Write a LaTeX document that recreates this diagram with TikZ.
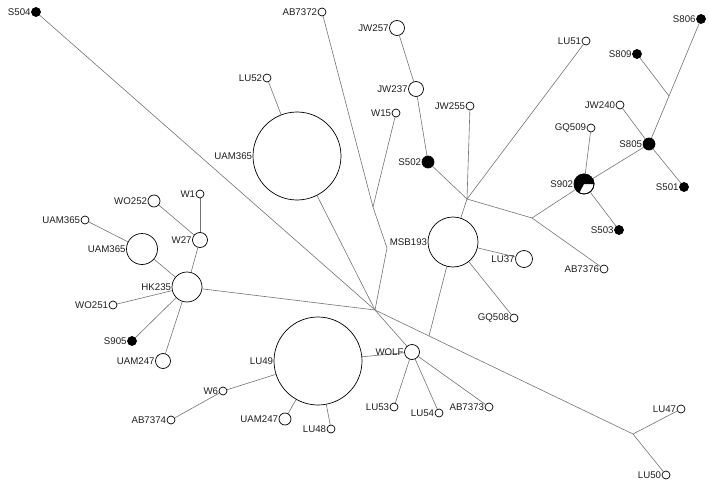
\documentclass[tikz,border=0pt]{standalone}
\usepackage{fontspec}
\setmainfont{Liberation Sans}
\pgfdeclarelayer{bg}
\pgfsetlayers{bg,main}
\begin{document}
\begin{tikzpicture}[x=1pt,y=-1pt,
  hap/.style={circle, draw=black, fill=white, line width=0.7pt, inner sep=0pt, minimum size=8pt},
  blk/.style={hap, fill=black},
  lbl/.style={font=\fontsize{9.7}{11}\selectfont, text=black!88, inner sep=0.4pt},
  ln/.style={draw=black!55, line width=0.6pt},
  label distance=0pt]
\useasboundingbox (0,0) rectangle (709,484);
% nodes
\node[blk, minimum size=9pt, label={[lbl]left:S504}] (S504) at (36,12) {};
\node[hap, label={[lbl]left:AB7372}] (AB7372) at (322,12) {};
\node[hap, minimum size=15pt, label={[lbl]left:JW257}] (JW257) at (397,28) {};
\node[hap, minimum size=15pt, label={[lbl]left:JW237}] (JW237) at (416,89) {};
\node[hap, label={[lbl]left:LU52}] (LU52) at (267,78) {};
\node[hap, label={[lbl]left:W15}] (W15) at (396,113) {};
\node[hap, label={[lbl]left:JW255}] (JW255) at (470,106) {};
\node[blk, minimum size=12pt, label={[lbl]left:S502}] (S502) at (428,162) {};
\node[hap, minimum size=88pt, label={[lbl]left:UAM365}] (UAMb) at (297,156) {};
\node[hap, label={[lbl]left:LU51}] (LU51) at (586,41) {};
\node[blk, minimum size=9pt, label={[lbl]left:S806}] (S806) at (701,19) {};
\node[blk, minimum size=9pt, label={[lbl]left:S809}] (S809) at (637,54) {};
\node[hap, label={[lbl]left:JW240}] (JW240) at (620,105) {};
\node[hap, label={[lbl]left:GQ509}] (GQ509) at (591,128) {};
\node[blk, minimum size=12pt, label={[lbl]left:S805}] (S805) at (649,144) {};
\node[hap, minimum size=20pt, label={[lbl]left:S902}] (S902) at (584,184) {};
\node[blk, minimum size=9pt, label={[lbl]left:S501}] (S501) at (684,187) {};
\node[blk, minimum size=9pt, label={[lbl]left:S503}] (S503) at (619,230) {};
\node[hap, label={[lbl]left:AB7376}] (AB7376) at (604,269) {};
\node[hap, minimum size=17pt, label={[lbl]left:LU37}] (LU37) at (524,259) {};
\node[hap, label={[lbl]left:GQ508}] (GQ508) at (514,318) {};
\node[hap, minimum size=50pt, label={[lbl]left:MSB193}] (MSB193) at (453,242) {};
\node[hap, minimum size=15pt, label={[lbl]left:WOLF}] (WOLF) at (412,352) {};
\node[hap, minimum size=88pt, label={[lbl]left:LU49}] (LU49) at (318,361) {};
\node[hap, label={[lbl]left:LU53}] (LU53) at (394,407) {};
\node[hap, label={[lbl]left:LU54}] (LU54) at (439,413) {};
\node[hap, label={[lbl]left:AB7373}] (AB7373) at (489,407) {};
\node[hap, label={[lbl]left:LU47}] (LU47) at (681,409) {};
\node[hap, label={[lbl]left:LU50}] (LU50) at (666,475) {};
\node[hap, minimum size=12pt, label={[lbl]left:UAM247}] (UAM247b) at (285,419) {};
\node[hap, label={[lbl]left:LU48}] (LU48) at (331,429) {};
\node[hap, label={[lbl]left:W6}] (W6) at (223,391) {};
\node[hap, label={[lbl]left:AB7374}] (AB7374) at (171,420) {};
\node[hap, minimum size=30pt, label={[lbl]left:HK235}] (HK235) at (187,287) {};
\node[hap, minimum size=15pt, label={[lbl]left:W27}] (W27) at (200,240) {};
\node[hap, label={[lbl]left:W1}] (W1) at (200,194) {};
\node[hap, minimum size=12pt, label={[lbl]left:WO252}] (WO252) at (154,201) {};
\node[hap, label={[lbl]left:UAM365}] (UAMs) at (85,220) {};
\node[hap, minimum size=31pt, label={[lbl]left:UAM365}] (UAMm) at (142,249) {};
\node[hap, label={[lbl]left:WO251}] (WO251) at (113,305) {};
\node[blk, minimum size=9pt, label={[lbl]left:S905}] (S905) at (132,341) {};
\node[hap, minimum size=15pt, label={[lbl]left:UAM247}] (UAM247a) at (163,361) {};
% pie of S902
\fill[black] (S902.center) -- (S902.0) arc[start angle=0, end angle=240, radius=10pt] -- cycle;
\draw[line width=0.7pt] (S902.center) circle[radius=10pt];
% junctions
\coordinate (J0) at (375,310);
\coordinate (J1) at (467,199);
\coordinate (J2) at (532,218);
\coordinate (J3) at (373,207);
\coordinate (J4) at (387,248);
\coordinate (J5) at (633,434);
\coordinate (J6) at (429,336);
\coordinate (J7) at (669,96);
% edges
\begin{pgfonlayer}{bg}
\draw[ln] (S504) -- (J0);
\draw[ln] (AB7372) -- (J3);
\draw[ln] (W15) -- (J3);
\draw[ln] (J3) -- (J4) -- (J0);
\draw[ln] (UAMb) -- (J0);
\draw[ln] (LU52) -- (UAMb);
\draw[ln] (HK235) -- (J0);
\draw[ln] (J0) -- (WOLF);
\draw[ln] (J0) -- (J6) -- (J5);
\draw[ln] (J6) -- (MSB193);
\draw[ln] (J5) -- (LU47);
\draw[ln] (J5) -- (LU50);
\draw[ln] (MSB193) -- (J1);
\draw[ln] (J1) -- (S502);
\draw[ln] (J1) -- (JW255);
\draw[ln] (J1) -- (LU51);
\draw[ln] (J1) -- (J2);
\draw[ln] (S502) -- (JW237);
\draw[ln] (JW237) -- (JW257);
\draw[ln] (J2) -- (S902);
\draw[ln] (J2) -- (AB7376);
\draw[ln] (S902) -- (GQ509);
\draw[ln] (S902) -- (S805);
\draw[ln] (S902) -- (S503);
\draw[ln] (S805) -- (JW240);
\draw[ln] (S805) -- (S501);
\draw[ln] (S805) -- (J7);
\draw[ln] (J7) -- (S806);
\draw[ln] (J7) -- (S809);
\draw[ln] (MSB193) -- (LU37);
\draw[ln] (MSB193) -- (GQ508);
\draw[ln] (WOLF) -- (LU49);
\draw[ln] (WOLF) -- (LU53);
\draw[ln] (WOLF) -- (LU54);
\draw[ln] (WOLF) -- (AB7373);
\draw[ln] (LU49) -- (UAM247b);
\draw[ln] (LU49) -- (LU48);
\draw[ln] (LU49) -- (W6);
\draw[ln] (W6) -- (AB7374);
\draw[ln] (HK235) -- (W27);
\draw[ln] (W27) -- (W1);
\draw[ln] (W27) -- (WO252);
\draw[ln] (HK235) -- (UAMm);
\draw[ln] (UAMm) -- (UAMs);
\draw[ln] (HK235) -- (WO251);
\draw[ln] (HK235) -- (S905);
\draw[ln] (HK235) -- (UAM247a);
\end{pgfonlayer}
\end{tikzpicture}
\end{document}
